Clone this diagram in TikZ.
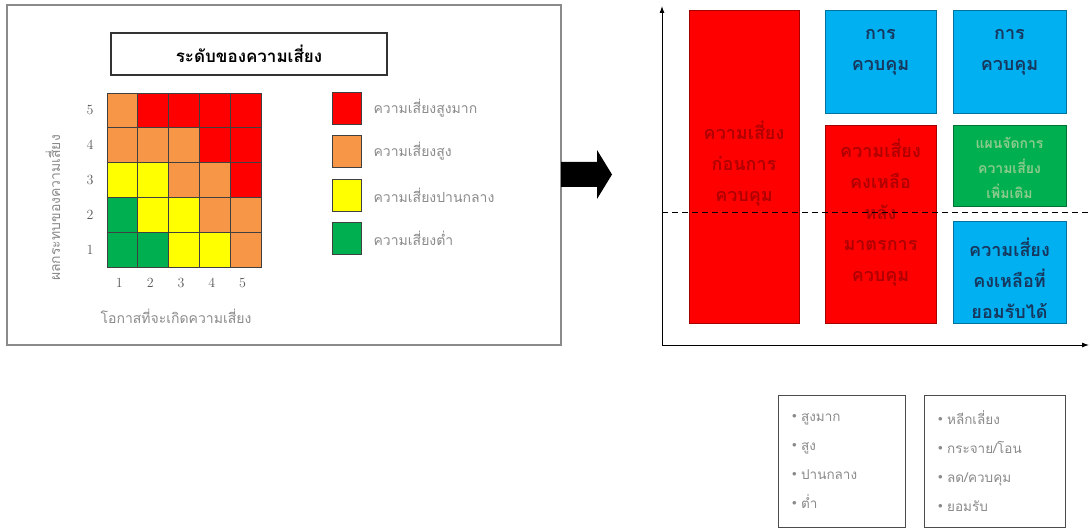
\documentclass[tikz,border=0pt]{standalone}
\usepackage{fontspec}
\newfontfamily\thai[Script=Thai]{Loma}
\usetikzlibrary{positioning, arrows.meta}

\definecolor{riskR}{HTML}{FF0000}
\definecolor{riskO}{HTML}{F79646}
\definecolor{riskY}{HTML}{FFFF00}
\definecolor{riskG}{HTML}{00B050}
\definecolor{ctrlB}{HTML}{00B0F0}
\definecolor{redtext}{HTML}{B00000}
\definecolor{navytext}{HTML}{17375E}
\definecolor{greentext}{HTML}{8CCB8C}
\definecolor{softgray}{HTML}{8A8A8A}

\tikzset{
  cell/.style={draw=black!75, line width=0.8pt},
  legendsq/.style={draw=black!75, line width=0.8pt, minimum width=29, minimum height=32, inner sep=0pt},
  legendtxt/.style={font=\thai\fontsize{14}{16}\selectfont, text=softgray, anchor=west, inner sep=0pt},
  axislabel/.style={font=\thai\fontsize{14}{16}\selectfont, text=softgray},
  digit/.style={font=\fontsize{14}{16}\selectfont, text=black!65},
  riskbox/.style={draw=#1!65!black, fill=#1, line width=0.8pt, inner sep=0pt},
  boxtxt/.style={font=\thai\bfseries\fontsize{18}{31}\selectfont, align=center, text=#1},
  listbox/.style={draw=black!70, line width=1pt, align=left, inner xsep=14pt, inner ysep=0pt,
    font=\thai\fontsize{13.5}{29}\selectfont, text=softgray},
}
\newcommand{\listdot}{\raisebox{2.5pt}{$\scriptstyle\bullet$}\ }

\begin{document}
\begin{tikzpicture}[x=1pt, y=-1pt]
    \useasboundingbox (0,0) rectangle (1090,529);

    % Left panel: risk matrix
    \draw[softgray, line width=1.2pt] (7,5) rectangle (561,345);
    \node[draw=black!80, line width=1.2pt, minimum width=276, minimum height=42,
          font=\thai\bfseries\fontsize{17}{19}\selectfont] (title) at (249,54) {ระดับของความเสี่ยง};

    % Cells, top row first
    \foreach \cols [count=\r] in {{O,R,R,R,R},{O,O,O,R,R},{Y,Y,O,O,R},{G,Y,Y,O,O},{G,G,Y,Y,O}} {
        \foreach \c [count=\k] in \cols {
            \draw[cell, fill=risk\c] ({107+(\k-1)*30.8},{93+(\r-1)*34.8}) rectangle ++(30.8,34.8);
        }
    }
    \foreach \n [count=\r] in {5,4,3,2,1}
        \node[digit] (row\n) at (90,{93+(\r-0.5)*34.8}) {\n};
    \foreach \n in {1,...,5}
        \node[digit] (col\n) at ({104+(\n-0.5)*30.8},283) {\n};
    \node[axislabel] (chance) at (176,316) {โอกาสที่จะเกิดความเสี่ยง};
    \node[axislabel, rotate=90] (impact) at (53,208) {ผลกระทบของความเสี่ยง};

    % Legend
    \foreach \col/\txt/\y in {riskR/ความเสี่ยงสูงมาก/108, riskO/ความเสี่ยงสูง/151,
                              riskY/ความเสี่ยงปานกลาง/195, riskG/ความเสี่ยงต่ำ/238} {
        \node[legendsq, fill=\col] (leg\y) at (346.5,\y) {};
        \node[legendtxt, right=12pt of leg\y] (legtxt\y) {\txt};
    }

    % Block arrow between panels
    \fill[black] (561,162) -- (597,162) -- (597,150) -- (612,174.5) -- (597,199) -- (597,187) -- (561,187) -- cycle;

    % Right panel: axes
    \coordinate (origin) at (662,345);
    \coordinate (ytop) at (662,6);
    \coordinate (xend) at (1089,345);
    \draw[line width=0.9pt, -{Latex[length=7pt, width=5pt]}] (origin) -- (ytop);
    \draw[line width=0.9pt, -{Latex[length=7pt, width=5pt]}] (origin) -- (xend);

    % Boxes
    \node[riskbox=riskR, minimum width=110, minimum height=313] (before) at (744,166.5) {};
    \node[riskbox=ctrlB, minimum width=111, minimum height=103] (ctrlA) at (880.5,61.5) {};
    \node[riskbox=riskR, minimum width=111, minimum height=198] (residual) at (880.5,224) {};
    \node[riskbox=ctrlB, minimum width=113, minimum height=103] (ctrlB) at (1009.5,61.5) {};
    \node[riskbox=riskG, minimum width=113, minimum height=81] (extra) at (1009.5,165.5) {};
    \node[riskbox=ctrlB, minimum width=113, minimum height=102] (accept) at (1009.5,272) {};

    % Box texts
    \node[boxtxt=redtext] (before-t) at (744,164) {ความเสี่ยง\\ก่อนการ\\ควบคุม};
    \node[boxtxt=navytext] (ctrlA-t) at (880.5,52) {การ\\ควบคุม};
    \node[boxtxt=redtext] (residual-t) at (880.5,213) {ความเสี่ยง\\คงเหลือ\\หลัง\\มาตรการ\\ควบคุม};
    \node[boxtxt=navytext] (ctrlB-t) at (1009.5,52) {การ\\ควบคุม};
    \node[boxtxt=greentext, font=\thai\bfseries\fontsize{14}{25}\selectfont] (extra-t) at (1009.5,168) {แผนจัดการ\\ความเสี่ยง\\เพิ่มเติม};
    \node[boxtxt=navytext] (accept-t) at (1009.5,278) {ความเสี่ยง\\คงเหลือที่\\ยอมรับได้};

    % Acceptance level
    \draw[dashed, dash pattern=on 6pt off 4pt, line width=1pt] (662,213) -- (1090,213);

    % Lists
    \node[listbox, text width=99, minimum height=132] (levels) at (841.5,461)
        {\listdot สูงมาก\\\listdot สูง\\\listdot ปานกลาง\\\listdot ต่ำ};
    \node[listbox, text width=113, minimum height=132] (actions) at (994.5,461)
        {\listdot หลีกเลี่ยง\\\listdot กระจาย/โอน\\\listdot ลด/ควบคุม\\\listdot ยอมรับ};
\end{tikzpicture}
\end{document}
